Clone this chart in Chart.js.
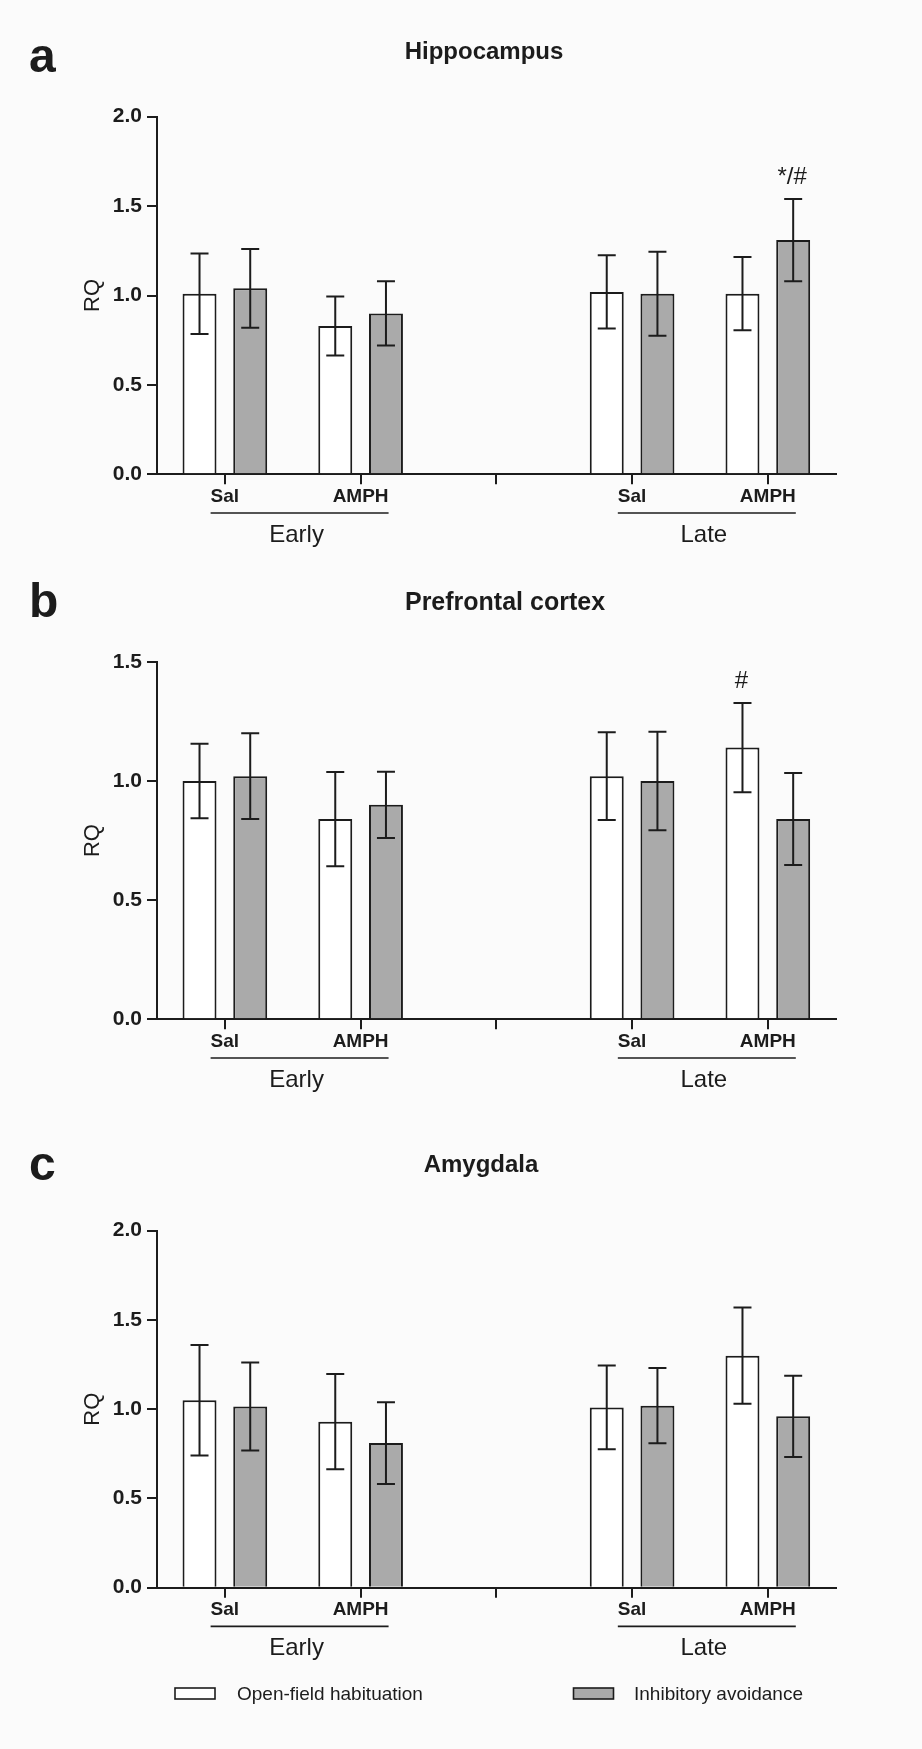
<!DOCTYPE html>
<html><head><meta charset="utf-8">
<script src="https://cdn.jsdelivr.net/npm/chart.js@4.4.1/dist/chart.umd.min.js"></script>
<style>
html,body{margin:0;padding:0;background:#fbfbfb;}
#wrap{position:relative;width:922px;height:1749px;overflow:hidden;background:#fbfbfb;}
canvas{position:absolute;left:0;}
</style></head><body>
<div id="wrap">
<canvas id="ca" width="922" height="560" style="top:0px;width:922px;height:560px"></canvas>
<canvas id="cb" width="922" height="560" style="top:560px;width:922px;height:560px"></canvas>
<canvas id="cc" width="922" height="629" style="top:1120px;width:922px;height:629px"></canvas>
</div>
<script>
// ---- data ----
const categories = ['Sal', 'AMPH', '', 'Sal', 'AMPH'];
const groupLabels = ['Early', 'Late'];
const groupSpans = [[0, 1], [3, 4]];
const seriesNames = ['Open-field habituation', 'Inhibitory avoidance'];

const hippoOFH    = [1.01, 0.83, null, 1.02, 1.01];
const hippoOFHErr = [0.225, 0.165, null, 0.205, 0.205];
const hippoIA     = [1.04, 0.90, null, 1.01, 1.31];
const hippoIAErr  = [0.22, 0.18, null, 0.235, 0.23];

const pfcOFH    = [1.00, 0.84, null, 1.02, 1.14];
const pfcOFHErr = [0.156, 0.198, null, 0.184, 0.187];
const pfcIA     = [1.02, 0.90, null, 1.00, 0.84];
const pfcIAErr  = [0.18, 0.139, null, 0.207, 0.193];

const amyOFH    = [1.05, 0.93, null, 1.01, 1.30];
const amyOFHErr = [0.31, 0.267, null, 0.235, 0.27];
const amyIA     = [1.015, 0.81, null, 1.02, 0.96];
const amyIAErr  = [0.246, 0.229, null, 0.211, 0.228];

const yTicksA = [0, 0.5, 1.0, 1.5, 2.0];
const yTicksB = [0, 0.5, 1.0, 1.5];
const yTicksC = [0, 0.5, 1.0, 1.5, 2.0];

const panelLetters = ['a', 'b', 'c'];
const panelTitles = ['Hippocampus', 'Prefrontal cortex', 'Amygdala'];
const axisTitle = 'RQ';
const sigA = { dataset: 1, index: 4, text: '*/#' };
const sigB = { dataset: 0, index: 4, text: '#' };

// ---- styling ----
const FONT = '"Liberation Sans", Arial, Helvetica, sans-serif';
const INK = '#1c1c1c';
const GRAY = '#aaaaaa';

const errorBarPlugin = {
  id: 'errorBars',
  afterDatasetsDraw(chart, args, opts) {
    const ctx = chart.ctx, ys = chart.scales.y;
    chart.data.datasets.forEach((ds, i) => {
      const meta = chart.getDatasetMeta(i);
      meta.data.forEach((bar, j) => {
        const v = ds.data[j], e = ds.errors[j];
        if (v == null || e == null) return;
        const x = bar.x, yt = ys.getPixelForValue(v + e), yb = ys.getPixelForValue(v - e);
        ctx.save();
        ctx.strokeStyle = INK; ctx.lineWidth = 2;
        ctx.beginPath();
        ctx.moveTo(x, yt); ctx.lineTo(x, yb);
        ctx.moveTo(x - 9, yt); ctx.lineTo(x + 9, yt);
        ctx.moveTo(x - 9, yb); ctx.lineTo(x + 9, yb);
        ctx.stroke();
        ctx.restore();
      });
    });
  }
};

const decoPlugin = {
  id: 'deco',
  afterDraw(chart, args, o) {
    const ctx = chart.ctx, xs = chart.scales.x, ys = chart.scales.y;
    const area = chart.chartArea;
    ctx.save();
    ctx.fillStyle = INK; ctx.strokeStyle = INK;
    // panel letter
    ctx.font = 'bold 48px ' + FONT;
    ctx.textAlign = 'left'; ctx.textBaseline = 'alphabetic';
    ctx.fillText(o.letter, 29, o.letterBaseline);
    // title
    ctx.font = 'bold ' + o.titleSize + 'px ' + FONT;
    ctx.textAlign = 'center';
    ctx.fillText(o.title, o.titleX, o.titleBaseline);
    // group labels under x axis
    groupSpans.forEach((span, g) => {
      ctx.font = 'bold 19px ' + FONT;
      const l = xs.getPixelForValue(span[0]) - ctx.measureText(categories[span[0]]).width / 2;
      const r = xs.getPixelForValue(span[1]) + ctx.measureText(categories[span[1]]).width / 2;
      const ly = area.bottom + 38.7;
      ctx.lineWidth = 1.6;
      ctx.beginPath(); ctx.moveTo(l, ly); ctx.lineTo(r, ly); ctx.stroke();
      ctx.font = '24px ' + FONT;
      ctx.textAlign = 'center';
      ctx.fillText(groupLabels[g], (l + r) / 2 - 3, area.bottom + 67.4);
    });
    // significance marks
    if (o.sig) {
      const ds = chart.data.datasets[o.sig.dataset];
      const bar = chart.getDatasetMeta(o.sig.dataset).data[o.sig.index];
      const top = ys.getPixelForValue(ds.data[o.sig.index] + ds.errors[o.sig.index]);
      ctx.font = '24px ' + FONT;
      ctx.textAlign = 'center';
      ctx.fillText(o.sig.text, bar.x - 1, top - 15);
    }
    // legend
    if (o.legend) {
      const items = [{ x: 175, tx: 237 }, { x: 573.5, tx: 634 }];
      const ly = o.legendY;
      chart.data.datasets.forEach((ds, i) => {
        const it = items[i];
        ctx.fillStyle = ds.backgroundColor;
        ctx.fillRect(it.x, ly - 5.5, 40, 11);
        ctx.lineWidth = 1.6; ctx.strokeStyle = INK;
        ctx.strokeRect(it.x, ly - 5.5, 40, 11);
        ctx.fillStyle = INK;
        ctx.font = '19px ' + FONT;
        ctx.textAlign = 'left'; ctx.textBaseline = 'middle';
        ctx.fillText(ds.label, it.tx, ly + 1);
        ctx.textBaseline = 'alphabetic';
      });
    }
    ctx.restore();
  }
};

function makePanel(id, ofh, ofhErr, ia, iaErr, yTicks, layout, deco) {
  const yMax = yTicks[yTicks.length - 1];
  return new Chart(document.getElementById(id), {
    type: 'bar',
    data: {
      labels: categories,
      datasets: [
        { label: seriesNames[0], data: ofh, errors: ofhErr, backgroundColor: '#ffffff',
          borderColor: INK, borderWidth: 2, borderSkipped: 'start' },
        { label: seriesNames[1], data: ia, errors: iaErr, backgroundColor: GRAY,
          borderColor: INK, borderWidth: 2, borderSkipped: 'start' }
      ]
    },
    options: {
      responsive: false,
      animation: false,
      devicePixelRatio: 1,
      categoryPercentage: 0.747,
      barPercentage: 0.67,
      layout: { padding: { top: layout.top, left: 0, right: 86.3, bottom: layout.bottom } },
      plugins: {
        legend: { display: false },
        tooltip: { enabled: false },
        deco: deco
      },
      scales: {
        x: {
          type: 'category',
          offset: true,
          z: 1,
          grid: { display: true, offset: false, drawOnChartArea: false, drawTicks: true,
                  tickLength: 10, color: INK, lineWidth: 2 },
          border: { display: true, color: INK, width: 2 },
          ticks: { color: INK, padding: 1, font: { family: FONT, size: 19, weight: 'bold' },
                   maxRotation: 0, autoSkip: false },
          afterFit: s => { s.height = 40; s.paddingLeft = 0; s.paddingRight = 0; }
        },
        y: {
          min: 0, max: yMax,
          afterBuildTicks: s => { s.ticks = yTicks.map(v => ({ value: v })); },
          grid: { display: true, drawOnChartArea: false, drawTicks: true, tickLength: 10,
                  color: INK, lineWidth: 2 },
          border: { display: true, color: INK, width: 2 },
          ticks: { color: INK, padding: 5, font: { family: FONT, size: 21, weight: 'bold' },
                   callback: v => Number(v).toFixed(1) },
          title: { display: true, text: axisTitle, color: INK,
                   font: { family: FONT, size: 22, lineHeight: 1 }, padding: { top: 81.5, bottom: 0 } },
          afterFit: s => { s.width = 157; s.paddingTop = 0; s.paddingBottom = 0; }
        }
      }
    },
    plugins: [errorBarPlugin, decoPlugin]
  });
}

makePanel('ca', hippoOFH, hippoOFHErr, hippoIA, hippoIAErr, yTicksA,
  { top: 116.7, bottom: 560 - 474.3 - 40 },
  { letter: panelLetters[0], letterBaseline: 72, title: panelTitles[0], titleX: 484, titleBaseline: 59.3, titleSize: 24, sig: sigA });

makePanel('cb', pfcOFH, pfcOFHErr, pfcIA, pfcIAErr, yTicksB,
  { top: 101.8, bottom: 560 - 459.3 - 40 },
  { letter: panelLetters[1], letterBaseline: 57, title: panelTitles[1], titleX: 505, titleBaseline: 49.6, titleSize: 25, sig: sigB });

makePanel('cc', amyOFH, amyOFHErr, amyIA, amyIAErr, yTicksC,
  { top: 110.7, bottom: 629 - 467.7 - 40 },
  { letter: panelLetters[2], letterBaseline: 59.5, title: panelTitles[2], titleX: 481, titleBaseline: 52, titleSize: 24, sig: null, legend: true, legendY: 573.5 });
</script>
</body></html>
